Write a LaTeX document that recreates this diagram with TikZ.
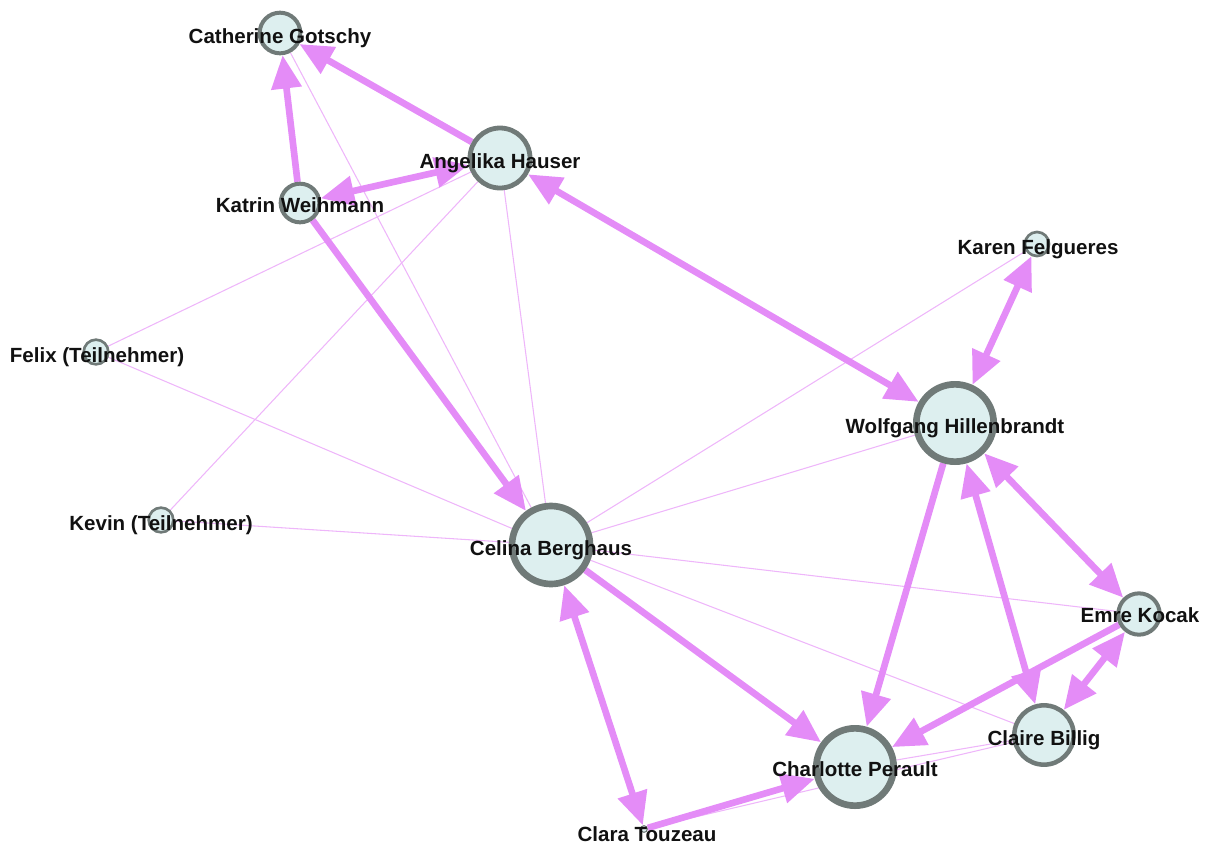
\documentclass[tikz,border=0pt]{standalone}
\usepackage{fontspec}
\setmainfont{Liberation Sans}
\usetikzlibrary{arrows.meta}
\definecolor{nodefill}{RGB}{221,239,239}
\definecolor{nodeline}{RGB}{112,122,120}
\definecolor{linkstrong}{RGB}{228,140,247}
\definecolor{linkweak}{RGB}{238,182,250}
\definecolor{labeltext}{RGB}{17,17,17}
\pgfdeclarelayer{links}
\pgfdeclarelayer{names}
\pgfsetlayers{links,main,names}
\tikzset{
  person/.style={circle, draw=nodeline, fill=nodefill, inner sep=0pt},
  personname/.style={anchor=base, inner sep=0pt, text=labeltext,
    font=\fontsize{15.4pt}{18pt}\selectfont\bfseries},
  weak/.style={draw=linkweak, line width=0.8pt},
  strong/.style={draw=linkstrong, line width=5pt},
  tipto/.style={-{Triangle[length=25pt,width=22pt]}},
  tipboth/.style={{Triangle[length=25pt,width=22pt]}-{Triangle[length=25pt,width=22pt]}},
}
\begin{document}
\begin{tikzpicture}[x=0.75pt, y=-0.75pt]
\useasboundingbox (0,0) rectangle (1211,850);

% people
\node[person, line width=3pt,   minimum size=30.5pt] (cath)   at (280,33)  {};
\node[person, line width=3.6pt, minimum size=45pt]   (ang)    at (500,158) {};
\node[person, line width=3pt,   minimum size=29pt]   (kat)    at (300,203) {};
\node[person, line width=2pt,   minimum size=18pt]   (kar)    at (1037,244) {};
\node[person, line width=5pt,   minimum size=58pt]   (wolf)   at (955,423) {};
\node[person, line width=2pt,   minimum size=18.5pt] (fel)    at (96,352)  {};
\node[person, line width=2pt,   minimum size=18.5pt] (kev)    at (161,520) {};
\node[person, line width=5pt,   minimum size=58.5pt] (cel)    at (551,545) {};
\node[person, line width=3pt,   minimum size=31pt]   (emre)   at (1139,614) {};
\node[person, line width=3.4pt, minimum size=44.5pt] (claire) at (1044,735) {};
\node[person, line width=5pt,   minimum size=58pt]   (charl)  at (855,767) {};
\node[person, line width=0.8pt, minimum size=5pt]    (clara)  at (644,829) {};

\begin{pgfonlayer}{links}
% weak ties
\draw[weak] (cath) -- (cel);
\draw[weak] (ang) -- (cel);
\draw[weak] (ang) -- (fel);
\draw[weak] (ang) -- (kev);
\draw[weak] (fel) -- (cel);
\draw[weak] (kev) -- (cel);
\draw[weak] (cel) -- (kar);
\draw[weak] (cel) -- (wolf);
\draw[weak] (cel) -- (emre);
\draw[weak] (cel) -- (claire);
\draw[weak] (charl) -- (claire);
\draw[weak] (clara) -- (claire);
% strong ties
\draw[strong, tipto]   (ang) -- (cath);
\draw[strong, tipto]   (kat) -- (cath);
\draw[strong, tipboth] (kat) -- (ang);
\draw[strong, tipboth] (ang) -- (wolf);
\draw[strong, tipto]   (kat) -- (cel);
\draw[strong, tipboth] (wolf) -- (kar);
\draw[strong, tipto]   (wolf) -- (charl);
\draw[strong, tipboth] (wolf) -- (claire);
\draw[strong, tipboth] (wolf) -- (emre);
\draw[strong, tipto]   (emre) -- (charl);
\draw[strong, tipboth] (emre) -- (claire);
\draw[strong, tipto]   (cel) -- (charl);
\draw[strong, tipboth] (clara) -- (cel);
\draw[strong, tipto]   (clara) -- (charl);
\end{pgfonlayer}

\begin{pgfonlayer}{names}
\node[personname] (cath-n)   at (280,43)   {Catherine Gotschy};
\node[personname] (ang-n)    at (500,168)  {Angelika Hauser};
\node[personname] (kat-n)    at (300,212)  {Katrin Weihmann};
\node[personname] (kar-n)    at (1038,254) {Karen Felgueres};
\node[personname] (wolf-n)   at (955,433)  {Wolfgang Hillenbrandt};
\node[personname] (fel-n)    at (97,362)   {Felix (Teilnehmer)};
\node[personname] (kev-n)    at (161,530)  {Kevin (Teilnehmer)};
\node[personname] (cel-n)    at (551,555)  {Celina Berghaus};
\node[personname] (emre-n)   at (1140,622) {Emre Kocak};
\node[personname] (claire-n) at (1044,745) {Claire Billig};
\node[personname] (charl-n)  at (855,776)  {Charlotte Perault};
\node[personname] (clara-n)  at (647,841)  {Clara Touzeau};
\end{pgfonlayer}
\end{tikzpicture}
\end{document}
